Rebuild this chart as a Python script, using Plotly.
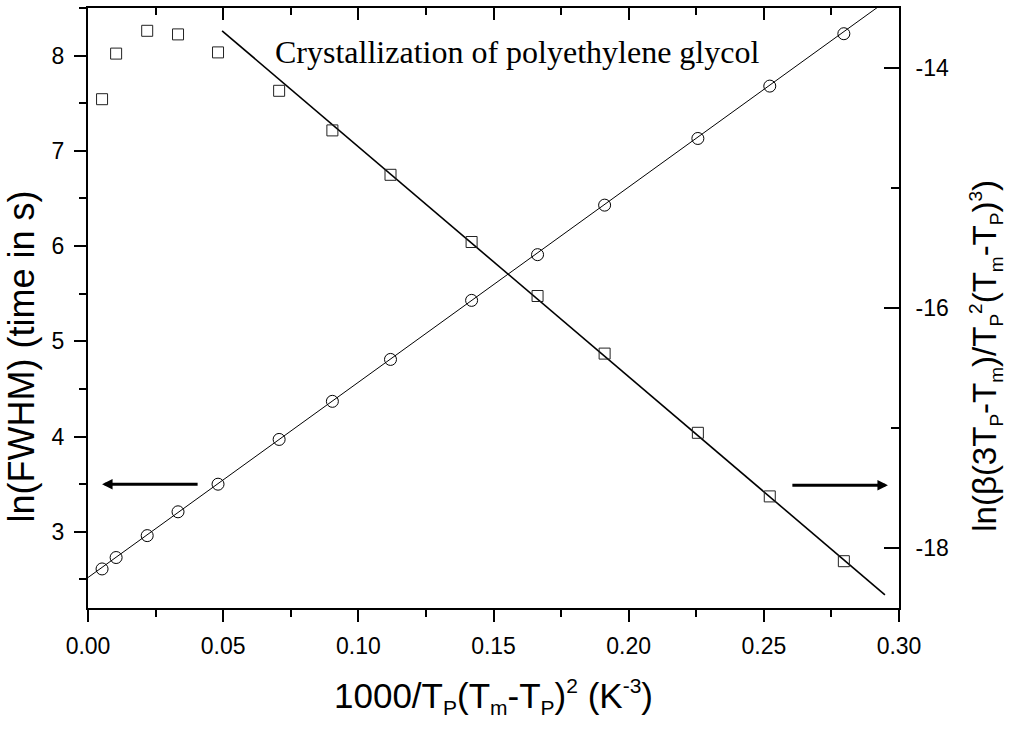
import plotly.graph_objects as go

# 1000/Tp(Tm-Tp)^2 for each isothermal run (K^-3)
x_vals = [0.0052, 0.0104, 0.0219, 0.0333, 0.0481, 0.0707, 0.0904, 0.1119,
          0.1419, 0.1663, 0.1911, 0.2256, 0.2522, 0.2796]
# ln(FWHM), time in s (left axis, circles)
ln_fwhm = [2.61, 2.73, 2.96, 3.21, 3.50, 3.97, 4.37, 4.81,
           5.43, 5.91, 6.43, 7.13, 7.68, 8.23]
# ln(beta(3Tp-Tm)/Tp^2(Tm-Tp)^3) (right axis, squares)
ln_rate = [-14.26, -13.88, -13.69, -13.72, -13.87, -14.19, -14.52, -14.89,
           -15.45, -15.90, -16.38, -17.04, -17.57, -18.11]

# straight-line fits
fit_fwhm_x = [0.0, 0.30]
fit_fwhm_y = [2.52, 8.67]
fit_rate_x = [0.0496, 0.2948]
fit_rate_y = [-13.69, -18.39]

# right-axis tick values and their labels (plain hyphen minus)
rate_ticks = [-18, -16, -14]
rate_tick_text = ["-18", "-16", "-14"]

# arrows pointing to the axis each series belongs to (left-axis units)
arrow_left = dict(tip=0.0052, tail=0.0411, y=3.50)
arrow_right = dict(tip=0.2959, tail=0.2600, y=3.49)

SANS = "Liberation Sans, Arial, sans-serif"
SERIF = "Liberation Serif, Times New Roman, serif"


def sub(s, px):
    return f'<sub><span style="font-size:{px}px">{s}</span></sub>'


def sup(s, px):
    return f'<sup><span style="font-size:{px}px">{s}</span></sup>'


x_title = ("1000/T" + sub("P", 21) + "(T" + sub("m", 21) + "-T" + sub("P", 21) + ")"
           + sup("2", 21) + " (K" + sup("-3", 21) + ")")
y2_title = ("ln(\u03b2(3T" + sub("P", 19) + "-T" + sub("m", 19) + ")/T" + sub("P", 19)
            + sup("2", 19) + "(T" + sub("m", 19) + "-T" + sub("P", 19) + ")"
            + sup("3", 19) + ")")

fig = go.Figure()

fig.add_trace(go.Scatter(x=fit_fwhm_x, y=fit_fwhm_y, mode="lines",
                         line=dict(color="black", width=1), yaxis="y",
                         hoverinfo="skip", showlegend=False))
fig.add_trace(go.Scatter(x=x_vals, y=ln_fwhm, mode="markers",
                         marker=dict(symbol="circle-open", size=12, color="black",
                                     line=dict(width=1)),
                         yaxis="y", showlegend=False))
fig.add_trace(go.Scatter(x=fit_rate_x, y=fit_rate_y, mode="lines",
                         line=dict(color="black", width=1.6), yaxis="y2",
                         hoverinfo="skip", showlegend=False))
fig.add_trace(go.Scatter(x=x_vals, y=ln_rate, mode="markers",
                         marker=dict(symbol="square-open", size=11, color="#222",
                                     line=dict(width=1)),
                         yaxis="y2", showlegend=False))
# carrier trace for the top frame axis
fig.add_trace(go.Scatter(x=x_vals, y=ln_fwhm, xaxis="x2", yaxis="y", mode="markers",
                         marker=dict(opacity=0), hoverinfo="skip", showlegend=False))

axis_common = dict(showline=True, linecolor="black", linewidth=2, showgrid=False,
                   zeroline=False, tickcolor="black", tickwidth=2,
                   tickfont=dict(family=SANS, size=23, color="black"))

fig.update_layout(
    width=1012, height=729,
    margin=dict(l=88, r=113, t=8, b=121),
    paper_bgcolor="white", plot_bgcolor="white",
    xaxis=dict(range=[0, 0.30], tick0=0, dtick=0.05, tickformat=".2f",
               ticks="outside", ticklen=12, ticklabelstandoff=4,
               minor=dict(dtick=0.025, ticklen=7, tickwidth=2, ticks="outside",
                          tickcolor="black"),
               **axis_common),
    xaxis2=dict(range=[0, 0.30], overlaying="x", side="top", anchor="y",
                tick0=0, dtick=0.05, ticks="inside", ticklen=12,
                showticklabels=False,
                minor=dict(dtick=0.025, ticklen=7, tickwidth=2, ticks="inside",
                           tickcolor="black"),
                **axis_common),
    yaxis=dict(range=[2.2, 8.5], tick0=3, dtick=1, ticks="outside", ticklen=12,
               ticklabelstandoff=5,
               minor=dict(dtick=0.5, ticklen=7, tickwidth=2, ticks="outside",
                          tickcolor="black"),
               **axis_common),
    yaxis2=dict(range=[-18.5, -13.5], overlaying="y", side="right", anchor="x",
                tickmode="array", tickvals=rate_ticks, ticktext=rate_tick_text,
                ticks="inside", ticklen=15, ticklabelstandoff=10,
                minor=dict(tick0=-18, dtick=1, ticklen=8, tickwidth=2, ticks="inside",
                           tickcolor="black"),
                **axis_common),
    annotations=[
        dict(text="Crystallization of polyethylene glycol", xref="paper", yref="paper",
             x=0.228, y=0.927, xanchor="left", yanchor="middle", showarrow=False,
             font=dict(family=SERIF, size=32, color="black")),
        dict(text=x_title, xref="paper", yref="paper", x=0.5, y=-0.148,
             xanchor="center", yanchor="middle", showarrow=False,
             font=dict(family=SANS, size=35, color="black")),
        dict(text="ln(FWHM) (time in s)", xref="paper", yref="paper",
             x=-0.082, y=0.42, xanchor="center", yanchor="middle", textangle=-90,
             showarrow=False, font=dict(family=SANS, size=36, color="black")),
        dict(text=y2_title, xref="paper", yref="paper", x=1.107, y=0.42,
             xanchor="center", yanchor="middle", textangle=-90, showarrow=False,
             font=dict(family=SANS, size=33, color="black")),
        dict(x=arrow_left["tip"], y=arrow_left["y"], ax=arrow_left["tail"],
             ay=arrow_left["y"], xref="x", yref="y", axref="x", ayref="y",
             showarrow=True, arrowhead=2, arrowsize=0.7, arrowwidth=3,
             arrowcolor="black", text=""),
        dict(x=arrow_right["tip"], y=arrow_right["y"], ax=arrow_right["tail"],
             ay=arrow_right["y"], xref="x", yref="y", axref="x", ayref="y",
             showarrow=True, arrowhead=2, arrowsize=0.7, arrowwidth=3,
             arrowcolor="black", text=""),
    ],
)

fig.write_html("out.html")
